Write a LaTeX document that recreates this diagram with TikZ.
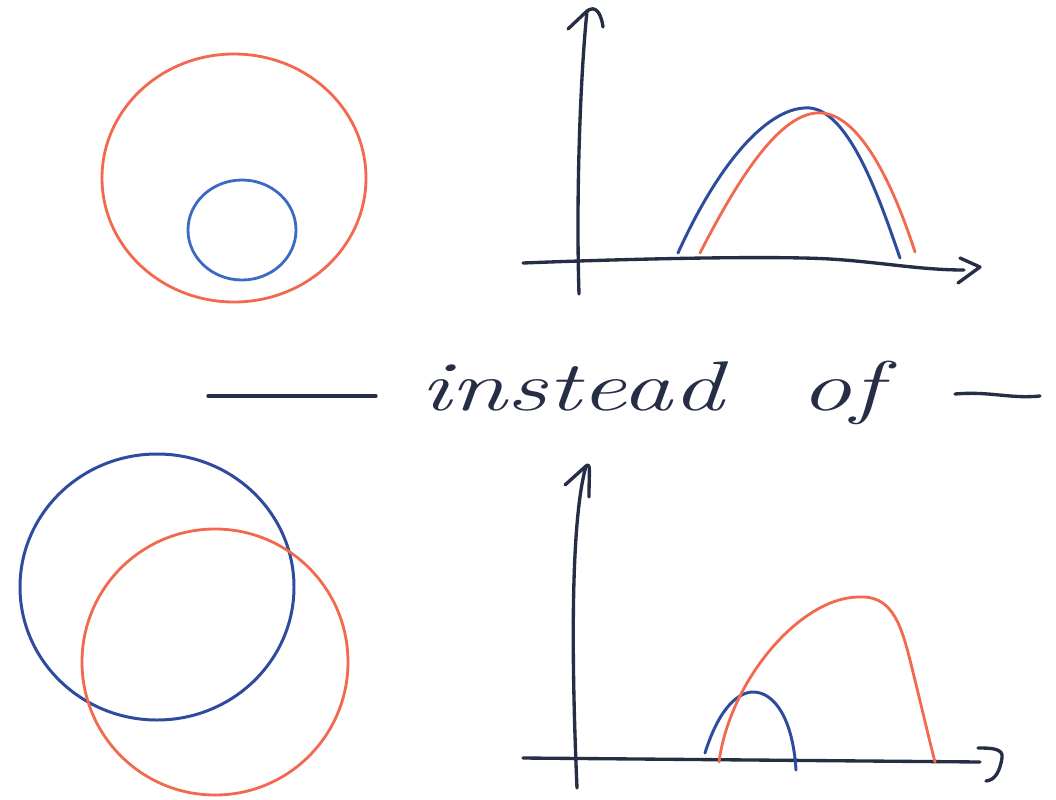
\documentclass[tikz,border=0pt]{standalone}
\usepackage{tikz}
\usetikzlibrary{positioning}
\usepackage{xcolor}
\definecolor{ink}{HTML}{262E45}
\definecolor{coral}{HTML}{F2694F}
\definecolor{sky}{HTML}{3A6AC4}
\definecolor{navy}{HTML}{2D4C9E}
\tikzset{
  axis/.style={draw=ink,line width=1.9pt,line cap=round,line join=round},
  redline/.style={draw=coral,line width=1.6pt,line cap=round},
  blueline/.style={draw=sky,line width=1.6pt,line cap=round},
  navyline/.style={draw=navy,line width=1.7pt,line cap=round},
  hand/.style={text=ink,inner sep=0pt,font=\fontsize{40}{48}\selectfont\itshape},
}
\begin{document}
\begin{tikzpicture}[x=0.02cm,y=-0.02cm]
\useasboundingbox[fill=white] (0,0) rectangle (1056,799);

% top: nested sets
\draw[redline] (234,178) ellipse [x radius=132,y radius=124];
\draw[blueline] (242,230) ellipse [x radius=54,y radius=50];

% top: axes
\coordinate (topO) at (579,294);
\coordinate (topY) at (587,11);
\coordinate (topX) at (980,267);
\draw[axis] (topO) .. controls (576,200) and (580,80) .. (topY);
\draw[axis] (568,29) -- (topY) .. controls (595,5) and (601,12) .. (603,27);
\draw[axis] (523,263) .. controls (650,258) and (780,256) .. (830,259) .. controls (880,262) and (920,270) .. (964,270);
\draw[axis] (960,258) -- (topX) -- (958,283);

% top: curves
\draw[navyline] (678,253) .. controls (720,160) and (770,105) .. (810,108) .. controls (850,112) and (880,200) .. (900,258);
\draw[redline] (700,253) .. controls (745,165) and (785,110) .. (822,113) .. controls (862,116) and (895,190) .. (915,252);

% middle
\node[hand,anchor=base west] (instead) at (420,410) {\scalebox{1.45}[1]{instead}};
\node[hand,anchor=base west] (of) at (800,410) {\scalebox{1.45}[1]{of}};
\draw[axis] (208,396) -- (376,396);
\draw[axis] (955,394) .. controls (990,391) and (1010,399) .. (1040,396);

% bottom: overlapping sets
\draw[navyline] (157,587) ellipse [x radius=137,y radius=133];
\draw[redline] (215,662) ellipse [x radius=133,y radius=133];

% bottom: axes
\coordinate (botO) at (577,788);
\coordinate (botY) at (586,466);
\draw[axis] (botO) .. controls (571,650) and (571,520) .. (botY);
\draw[axis] (565,485) -- (botY) .. controls (591,462) and (589,472) .. (589,497);
\draw[axis] (523,758) -- (980,762);
\draw[axis] (978,748) .. controls (990,748) and (1004,748) .. (1002,758) .. controls (1000,770) and (996,780) .. (986,781);

% bottom: curves
\draw[navyline] (705,753) .. controls (720,705) and (740,692) .. (753,692) .. controls (775,692) and (793,720) .. (796,770);
\draw[redline] (719,762) .. controls (730,680) and (800,598) .. (858,597) .. controls (890,595) and (900,620) .. (910,660) .. controls (920,700) and (928,735) .. (935,762);
\end{tikzpicture}
\end{document}
